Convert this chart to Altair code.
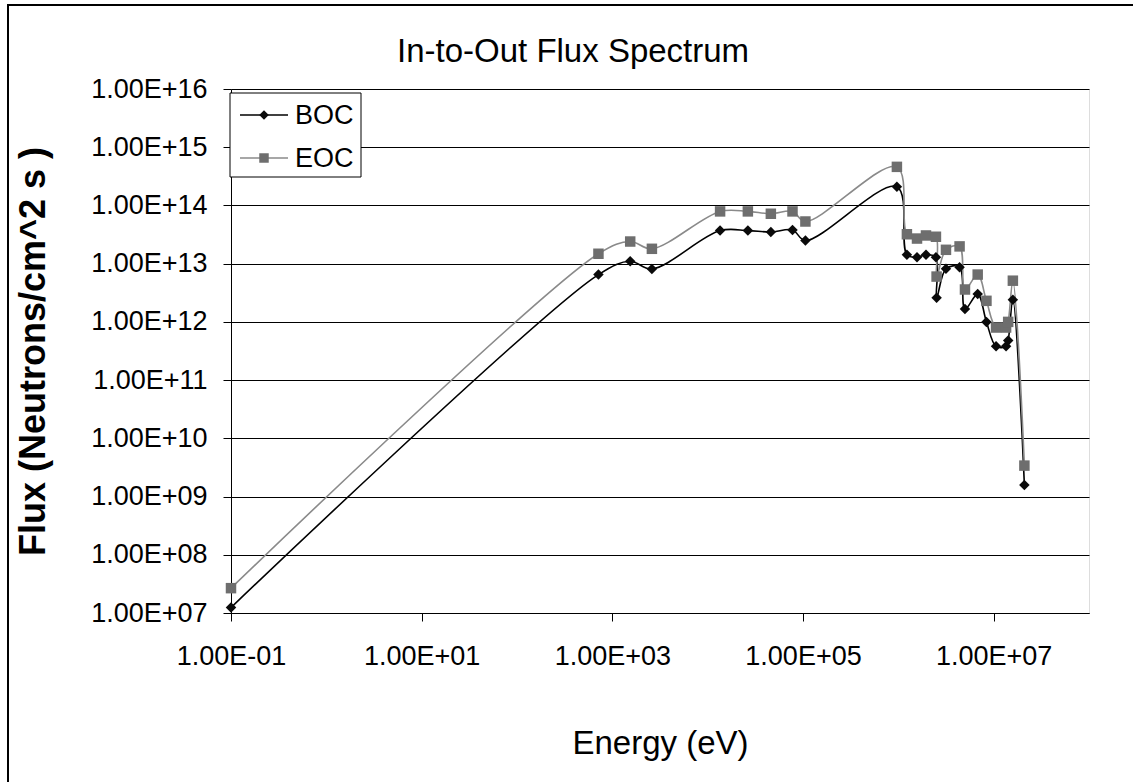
import altair as alt
import pandas as pd

# Group energies (eV) and the flux values of the two cycle states
energy_ev = [0.1, 715, 1540, 2600, 13500, 26400, 46000, 77600, 106000, 966000,
             1.23e6, 1.57e6, 1.95e6, 2.48e6, 2.52e6, 3.16e6, 4.39e6, 5.0e6, 6.8e6, 8.4e6,
             1.06e7, 1.35e7, 1.42e7, 1.59e7, 2.10e7]
flux_boc = [1.24e7, 6.5e12, 1.1e13, 8.1e12, 3.7e13, 3.7e13, 3.5e13, 3.8e13, 2.5e13, 2.1e14,
            1.42e13, 1.29e13, 1.42e13, 1.29e13, 2.6e12, 8.2e12, 8.7e12, 1.66e12, 3.0e12, 1.0e12,
            3.8e11, 3.8e11, 4.8e11, 2.4e12, 1.58e9]
flux_eoc = [2.67e7, 1.48e13, 2.4e13, 1.8e13, 7.9e13, 7.9e13, 7.2e13, 7.9e13, 5.3e13, 4.6e14,
            3.2e13, 2.7e13, 3.05e13, 2.9e13, 6.0e12, 1.73e13, 1.98e13, 3.6e12, 6.5e12, 2.3e12,
            8.0e11, 8.0e11, 1.0e12, 5.1e12, 3.4e9]
series_names = ["BOC", "EOC"]
x_ticks = [1e-1, 1e1, 1e3, 1e5, 1e7]
y_ticks = [1e7, 1e8, 1e9, 1e10, 1e11, 1e12, 1e13, 1e14, 1e15, 1e16]

line_colors = ["#000000", "#8a8a8a"]
marker_colors = ["#0a0a0a", "#6e6e6e"]
marker_shapes = ["diamond", "square"]

FONT = "Liberation Sans"
W, H = 858, 524

df = pd.DataFrame({
    "energy": energy_ev * 2,
    "flux": flux_boc + flux_eoc,
    "series": [series_names[0]] * len(energy_ev) + [series_names[1]] * len(energy_ev),
})

sci_label = (
    "format(datum.value / pow(10, round(log(datum.value) / LN10)), '.2f') + 'E' + "
    "(round(log(datum.value) / LN10) < 0 ? '-' : '+') + "
    "(abs(round(log(datum.value) / LN10)) < 10 ? '0' : '') + "
    "abs(round(log(datum.value) / LN10))"
)

x_enc = alt.X(
    "energy:Q",
    scale=alt.Scale(type="log", domain=[1e-1, 1e8], nice=False),
    axis=alt.Axis(
        values=x_ticks, labelExpr=sci_label, grid=False, labelFlush=False, labelOverlap=False,
        tickSize=8, tickColor="black", domainColor="black",
        labelFontSize=27, labelPadding=22, labelColor="black", labelFont=FONT,
        title="Energy (eV)", titleFontSize=33, titleFontWeight="normal", titleFont=FONT,
        titleColor="black", titleY=140, titleBaseline="alphabetic",
    ),
)
y_enc = alt.Y(
    "flux:Q",
    scale=alt.Scale(type="log", domain=[1e7, 1e16], nice=False),
    axis=alt.Axis(
        values=y_ticks, labelExpr=sci_label, grid=True, gridColor="black", gridWidth=1,
        labelFlush=False, labelOverlap=False,
        tickSize=8, tickColor="black", domainColor="black",
        labelFontSize=27, labelPadding=16, labelColor="black", labelFont=FONT,
        title="Flux (Neutrons/cm^2 s )", titleFontSize=36, titleFontWeight="bold",
        titleFont=FONT, titleColor="black", titleAngle=270,
        titleX=-187, titleY=H / 2, titleBaseline="alphabetic", titleAlign="center",
    ),
)

lines = alt.Chart(df).mark_line(interpolate="catmull-rom", strokeWidth=1.6).encode(
    x=x_enc, y=y_enc,
    stroke=alt.Stroke("series:N", scale=alt.Scale(domain=series_names, range=line_colors), legend=None),
    detail="series:N",
)
markers = alt.Chart(df).mark_point(filled=True, opacity=1, size=110).encode(
    x="energy:Q", y="flux:Q",
    fill=alt.Fill("series:N", scale=alt.Scale(domain=series_names, range=marker_colors), legend=None),
    shape=alt.Shape("series:N", scale=alt.Scale(domain=series_names, range=marker_shapes), legend=None),
)

# Legend box in the upper-left corner of the plot
legend_df = pd.DataFrame({"series": series_names})
legend_layers = [
    alt.Chart(legend_df.head(1)).mark_rect(fill="white", stroke="black", strokeWidth=1).encode(
        x=alt.value(-1), x2=alt.value(130), y=alt.value(4), y2=alt.value(88)
    )
]
for i, name in enumerate(series_names):
    row = legend_df[legend_df["series"] == name]
    row_y = 26 + 43 * i
    legend_layers.append(
        alt.Chart(row).mark_rule(strokeWidth=1.6, color=line_colors[i]).encode(
            x=alt.value(9), x2=alt.value(57), y=alt.value(row_y)
        )
    )
    legend_layers.append(
        alt.Chart(row).mark_point(filled=True, opacity=1, size=90, shape=marker_shapes[i],
                                  color=marker_colors[i]).encode(
            x=alt.value(33), y=alt.value(row_y)
        )
    )
    legend_layers.append(
        alt.Chart(row).mark_text(align="left", baseline="middle", fontSize=27, font=FONT,
                                 color="black").encode(
            x=alt.value(64), y=alt.value(row_y + 1), text="series:N"
        )
    )

# Outer frame edges of the chart
frame_df = pd.DataFrame({"edge": ["frame"]})
frame_left = alt.Chart(frame_df).mark_rule(color="black", strokeWidth=2).encode(
    x=alt.value(-223), y=alt.value(-84), y2=alt.value(693)
)
frame_top = alt.Chart(frame_df).mark_rule(color="black", strokeWidth=2).encode(
    x=alt.value(-224), x2=alt.value(902), y=alt.value(-84)
)

chart = alt.layer(
    frame_left, frame_top, lines, markers, *legend_layers
).properties(
    width=W, height=H,
    title=alt.TitleParams(
        "In-to-Out Flux Spectrum", fontSize=33, fontWeight="normal", font=FONT,
        color="black", anchor="start", frame="group", dx=166, dy=119, offset=28,
        baseline="alphabetic",
    ),
    autosize=alt.AutoSizeParams(type="none"),
    padding={"left": 231, "top": 89, "right": 44, "bottom": 169},
).configure_view(
    stroke="#808080", strokeWidth=1
).configure(
    background="white"
)

chart.save("out.html", embed_options={"renderer": "svg", "actions": False})
